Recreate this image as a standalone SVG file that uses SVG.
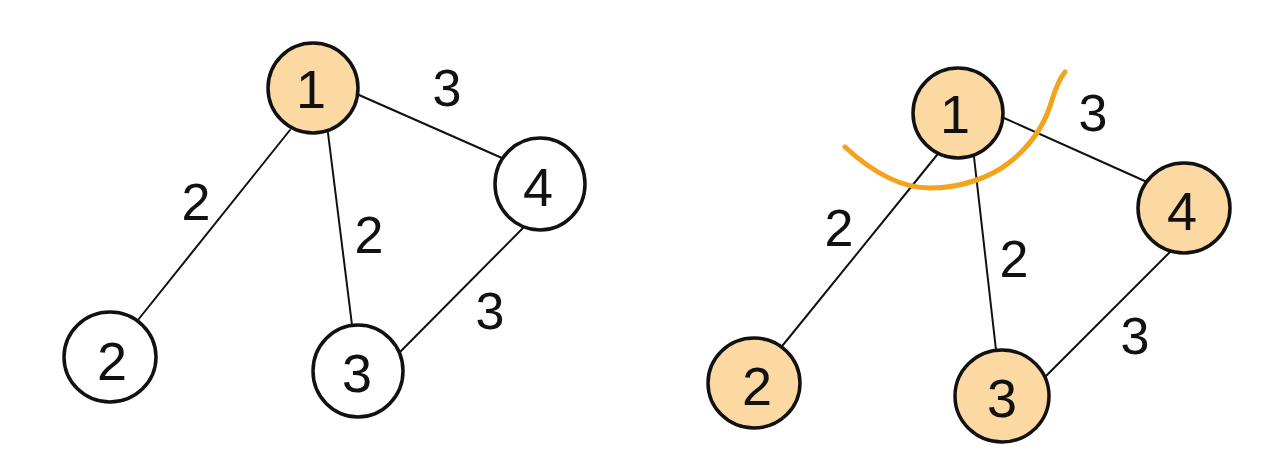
<svg xmlns="http://www.w3.org/2000/svg" width="1280" height="462" viewBox="0 0 1280 462">
<style>
.node{stroke:#111;stroke-width:3.5}
.white{fill:#fff}
.peach{fill:#FCD9A2}
.edge{stroke:#111;stroke-width:2;fill:none;stroke-linecap:round}
.nl{font-family:"Liberation Sans",Arial,sans-serif;font-size:54px;fill:#111;text-anchor:middle}
.el{font-family:"Liberation Sans",Arial,sans-serif;font-size:52px;fill:#111;text-anchor:middle}
.cut{stroke:#F4A31C;stroke-width:5;fill:none;stroke-linecap:round}
</style>
<rect width="1280" height="462" fill="#fff"/>
<g id="connectors">
<line class="edge" x1="290" y1="130" x2="138" y2="320"/>
<line class="edge" x1="328" y1="133" x2="352" y2="325"/>
<line class="edge" x1="359" y1="95" x2="502" y2="158"/>
<line class="edge" x1="523" y1="228" x2="400" y2="352"/>
<line class="edge" x1="937" y1="155" x2="783" y2="345"/>
<line class="edge" x1="974" y1="157" x2="996" y2="350"/>
<line class="edge" x1="1004" y1="118" x2="1147" y2="182"/>
<line class="edge" x1="1170" y1="252" x2="1045" y2="377"/>
</g>
<g id="edge-labels">
<text class="el" x="196" y="220">2</text>
<text class="el" x="369" y="253">2</text>
<text class="el" x="447" y="106">3</text>
<text class="el" x="490" y="329">3</text>
<text class="el" x="839" y="246">2</text>
<text class="el" x="1014" y="277">2</text>
<text class="el" x="1093" y="131">3</text>
<text class="el" x="1135" y="354">3</text>
</g>
<g id="L1"><ellipse class="node peach" cx="313" cy="88" rx="45" ry="45"/><text class="nl" x="311" y="108">1</text></g>
<g id="L2"><ellipse class="node white" cx="110" cy="357" rx="46" ry="45"/><text class="nl" x="112" y="380">2</text></g>
<g id="L3"><ellipse class="node white" cx="358" cy="371" rx="45" ry="46"/><text class="nl" x="357" y="392">3</text></g>
<g id="L4"><ellipse class="node white" cx="540" cy="184" rx="45" ry="46"/><text class="nl" x="538" y="206">4</text></g>
<g id="R1"><ellipse class="node peach" cx="958" cy="113" rx="45" ry="45"/><text class="nl" x="955" y="133">1</text></g>
<g id="R2"><ellipse class="node peach" cx="754" cy="383" rx="46" ry="45"/><text class="nl" x="757" y="405">2</text></g>
<g id="R3"><ellipse class="node peach" cx="1002" cy="396" rx="47" ry="46"/><text class="nl" x="1002" y="417">3</text></g>
<g id="R4"><ellipse class="node peach" cx="1184" cy="208" rx="46" ry="45"/><text class="nl" x="1182" y="230">4</text></g>
<g id="cut">
<path class="cut" d="M845,147 C870,170 900,188 930,188 C960,188 990,178 1010,162 C1030,146 1045,125 1052,100 C1057,84 1060,78 1065,72"/>
</g>
</svg>
